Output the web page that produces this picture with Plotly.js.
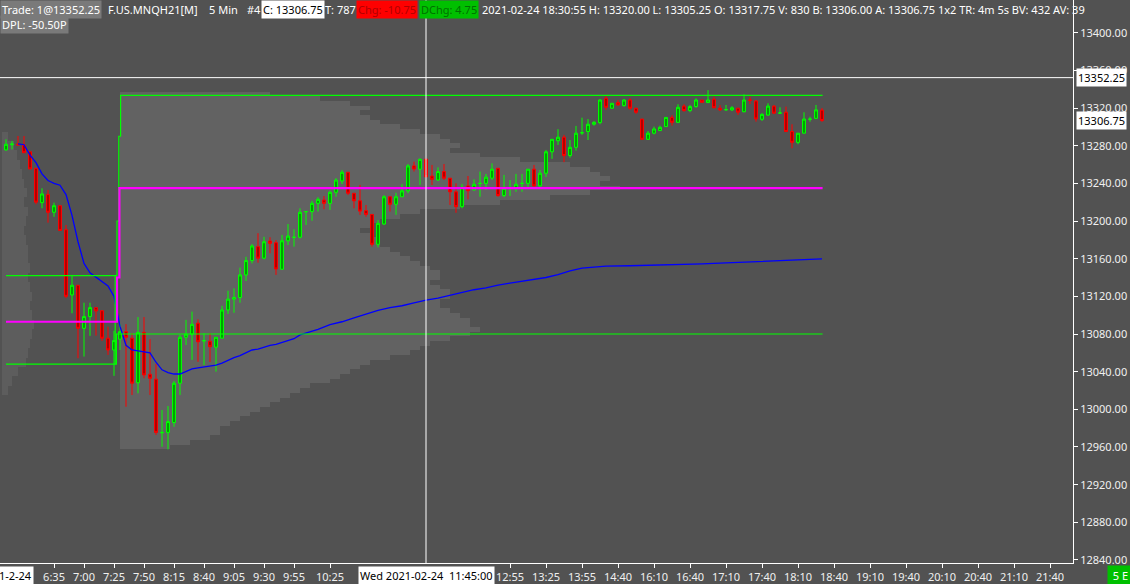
<!DOCTYPE html>
<html><head><meta charset="utf-8">
<script src="https://cdn.plot.ly/plotly-3.0.1.min.js"></script>
<style>html,body{margin:0;padding:0;background:#525252;}#chart{width:1130px;height:584px;}</style>
</head><body><div id="chart"></div>
<script>
// ---- candle data (bar index = position in arrays, 5-min bars) ----
const opens = [13275.5,13281,13281.5,13280.5,13273.5,13256,13219.5,13228,13209.25,13216.25,13190.75,13121.5,13131.75,13086,13098.5,13108,13104.75,13075.5,13063,13074.5,13082.5,13075.5,13028.25,13081.75,13037.25,13032,12975,12975.5,12986,13027.75,13076.5,13079.75,13091.5,13072.5,13072.25,13066,13075.5,13105.5,13117,13118.75,13142.75,13158,13172.75,13160.5,13178.75,13177,13148.75,13179,13182.5,13182.75,13209.75,13210,13218.75,13222.25,13218.75,13230.5,13242.5,13251.75,13229.5,13221.5,13211,13207,13175.25,13196.75,13225.75,13217.75,13225.75,13232,13258.5,13255,13265.5,13247.75,13243.5,13252.5,13245.5,13231,13215.25,13237.25,13233,13239.75,13240,13245.5,13256,13227,13234.5,13234.75,13239.75,13240,13255,13237.25,13250.75,13273.5,13285.25,13289,13269.5,13278.25,13293.5,13295,13302.75,13304.5,13330.25,13319.75,13325.75,13322.5,13328.5,13319.75,13308.25,13286.75,13293.25,13296,13300.25,13310,13304.75,13322,13317.25,13321.5,13328.5,13325.75,13329.25,13319.75,13318,13318,13319.75,13316,13328.5,13327.5,13308,13312.5,13322,13314.5,13315.5,13295,13283.5,13293.25,13308,13309,13317.75];
const highs = [13286.75,13285,13290.25,13290.25,13273.5,13256,13234.75,13233,13219.5,13216.25,13195.75,13142.75,13131.75,13113.25,13113.25,13108,13104.75,13087.75,13083.5,13090.5,13090.5,13081,13098,13098,13074.5,13048.25,12999.25,13003.5,13030,13079,13095,13103.75,13095.5,13080.75,13080.75,13076.5,13110,13126,13128.5,13150.5,13162,13175.5,13187,13183.25,13182.75,13179.75,13185.25,13196.75,13191.25,13213.5,13210,13221.5,13225.25,13226.5,13232.25,13245.5,13254.25,13251.75,13229.5,13238.25,13217,13207,13201,13227.5,13225.75,13230,13239.25,13260.5,13263,13266.5,13267,13259.5,13257,13260.5,13245.5,13240,13239.25,13247.75,13244.25,13252.5,13250,13261.25,13256,13249,13243.5,13250,13250,13255,13259.5,13254.25,13275.5,13286.75,13297.5,13291.5,13286,13301,13309.75,13308.25,13306.25,13329.5,13333.75,13325,13328.5,13329.5,13330.25,13320.25,13308.25,13295.5,13300.25,13301.25,13310,13312.5,13324,13324,13323.25,13330.25,13328.5,13339,13332,13323.25,13323.25,13322,13320.25,13334.5,13332,13328.5,13314.5,13325,13323.25,13320.75,13321.5,13302.75,13293.25,13315.5,13310.75,13323.25,13320];
const lows = [13274.75,13276,13280.5,13272.5,13255.25,13217.75,13213.5,13198.25,13204.5,13190,13118,13102,13054.25,13056,13078,13078.25,13072.5,13057.75,13035.5,13063,13002.75,13015.25,13017,13033,13015.25,12972.75,12960.25,12957.5,12981.5,13015.25,13068.25,13052.5,13050.5,13047,13050.25,13040,13075.5,13101.25,13102.5,13113.25,13136.25,13155,13155.75,13159.25,13165.75,13142.75,13148,13174.5,13172.75,13181.5,13195.75,13200.25,13210,13212.5,13211.75,13225.75,13239.25,13227.5,13213.5,13206.5,13204.5,13172.75,13172,13195.75,13210,13206.5,13225.75,13229.5,13252.5,13238.25,13246,13238.25,13242.75,13243.5,13217,13208.75,13213.5,13223,13232.25,13225.75,13233,13243.5,13225.75,13225.25,13226.5,13231,13231,13234.75,13236.5,13233.75,13246.75,13266,13280.75,13262.5,13267.25,13274.75,13291.5,13286,13301.25,13302.75,13318,13319,13322.5,13321.5,13318,13313.75,13286,13286,13292,13295.5,13300.25,13301.25,13304.75,13316,13315.5,13320.25,13326,13325.75,13319.75,13316.75,13317.25,13316.75,13312.5,13315.5,13324.25,13305.5,13306.25,13311.75,13313.75,13313.75,13295,13277.25,13281.5,13293.25,13305.5,13308.25,13305.25];
const closes = [13281.5,13281.75,13280.75,13272.5,13255.25,13220,13228.75,13209.25,13216.25,13190,13120,13131.75,13086,13098.5,13108,13104.5,13075.5,13063,13073,13082.5,13076.5,13027.75,13081.75,13036.5,13033,12975.5,12975.5,12987,13027.75,13076.5,13079.75,13090.25,13071.75,13073,13066.5,13076.5,13105.5,13117,13118.75,13142.75,13158,13173.5,13160.5,13178,13176.25,13149,13179,13184,13182.75,13209.25,13210,13218.75,13223,13218.75,13230.5,13243.5,13251.75,13229.5,13221.5,13210.5,13207,13175.25,13197.5,13225.75,13217.75,13225.75,13232,13258.5,13255.25,13265.5,13247,13244.25,13252.5,13245.5,13231,13215.25,13235.75,13232.25,13239,13240,13246.5,13255,13227,13234.75,13234.75,13239,13240,13255,13237.25,13250.75,13273.5,13286.75,13289,13269.5,13278.25,13293.25,13293.75,13302.75,13304.75,13328.5,13320.75,13325,13323.25,13328.5,13319.75,13315.5,13286.75,13293.25,13297.75,13299.5,13310,13304.75,13320.75,13317.25,13321.5,13328.5,13326,13328.5,13320.25,13318,13318.25,13320.25,13315.5,13328.5,13328.25,13308.25,13313.25,13322,13314.5,13314.75,13295,13283.5,13293.25,13308.25,13308.25,13318,13306.75];

// ---- blue average line (bar index, price) ----
const avgBar = [2,3,4,5,6,7,8,9,10,11,12,13,14,15,16,17,18,19,20,21,22,23,24,25,26,27,28,29,30,31,32,33,34,35,36,37,38,39,40,41,42,43,44,45,46,47,48,49,50,52,54,56,58,60,62,64,66,68,70,72,74,76,78,80,82,84,86,88,90,92,94,96,98,100,104,108,112,116,120,124,128,132,136];
const avgVal = [13282,13281,13270,13262,13250,13243,13240,13238,13228,13206,13178,13155,13145,13140,13136,13131,13120,13088,13068,13063,13062,13061,13060,13050,13042,13039,13037.5,13037.5,13040,13043,13044,13045,13046,13047,13049,13052,13055,13057,13060,13063,13064,13066,13068,13069,13071,13073,13075,13079,13081,13085,13090,13093,13097,13101,13105,13108,13110,13113,13116,13118,13121,13124,13127,13129,13132,13134,13136,13138,13140,13143,13147,13150,13151,13152,13152.5,13153,13154,13154.5,13155.5,13156.5,13157.5,13158.5,13159.7];

// ---- value-area / POC levels (step paths: bar index, price) ----
const prevVAHBar = [0,18.2], prevVAHVal = [13142,13142];
const vahBar = [18.2,18.2,18.5,18.5,18.8,18.8,19.1,19.1,136.1];
const vahVal = [13048,13142,13142,13200,13200,13290,13290,13333.5,13333.5];
const valBar = [0,18.2,18.4,18.4,136.1];
const valVal = [13048,13048,13048,13080,13080];
const pocBar = [0,18.3,18.5,18.5,18.9,18.9,136.1];
const pocVal = [13093,13093,13093,13140,13140,13235,13235];

// ---- volume profiles (price, volume) ----
const profPrice = [13335,13330,13325,13320,13315,13310,13305,13300,13295,13290,13285,13280,13275,13270,13265,13260,13255,13250,13245,13240,13235,13230,13225,13220,13215,13210,13205,13200,13195,13190,13185,13180,13175,13170,13165,13160,13155,13150,13145,13140,13135,13130,13125,13120,13115,13110,13105,13100,13095,13090,13085,13080,13075,13070,13065,13060,13055,13050,13045,13040,13035,13030,13025,13020,13015,13010,13005,13000,12995,12990,12985,12980,12975,12970,12965,12960];
const profVol = [1500,2000,2300,2500,2400,2500,2600,2800,3000,3200,3300,3400,3300,3600,4000,4500,4700,4800,4900,4800,5000,4700,4300,3800,3400,3000,2800,2600,2500,2400,2500,2600,2600,2700,2800,2900,3000,3100,3200,3200,3100,3200,3300,3300,3200,3200,3300,3400,3500,3500,3600,3500,3300,3100,3000,2900,2700,2500,2400,2300,2200,2100,1900,1800,1700,1600,1500,1400,1300,1200,1100,1000,1000,900,700,500];
const prevProfPrice = [13290,13280,13270,13260,13250,13240,13230,13220,13210,13200,13190,13180,13170,13160,13150,13140,13130,13120,13110,13100,13090,13080,13070,13060,13050,13040,13030,13020];
const prevProfVol = [60,120,150,180,200,220,250,220,260,240,220,240,260,260,280,260,280,300,280,300,320,300,280,260,240,160,100,60];

// ---- axis labels ----
const priceTicks = [12840,12880,12920,12960,13000,13040,13080,13120,13160,13200,13240,13280,13320,13360,13400];
const timeTickBar = [8,13,18,23,28,33,38,43,48,54,84,90,96,102,108,114,120,126,132,138,144,150,156,162,168,174];
const timeTickText = ['6:35','7:00','7:25','7:50','8:15','8:40','9:05','9:30','9:55','10:25','12:55','13:25','13:55','14:40','16:10','16:40','17:10','17:40','18:10','18:40','19:10','19:40','20:10','20:40','21:10','21:40'];
const cursorBar = 70, cursorPrice = 13352.25, lastPrice = 13306.75;
const sessionStart = 19;

const FONT = 'Noto Sans, Open Sans, sans-serif';
const PX_PER_BAR = 6;               // bar spacing on screen
const VOL_PER_PX = 10;              // profile volume units per pixel
const volToBars = v => v / VOL_PER_PX / PX_PER_BAR;

const idx = opens.map((_, i) => i);

const traces = [
  {type:'bar', orientation:'h', y:prevProfPrice, x:prevProfVol.map(volToBars), base:-0.6, width:10,
   marker:{color:'#5d5d5d', line:{width:0}}, hoverinfo:'skip'},
  {type:'bar', orientation:'h', y:profPrice, x:profVol.map(volToBars), base:sessionStart, width:5,
   marker:{color:'#626262', line:{width:0}}, hoverinfo:'skip'},
  {type:'scatter', mode:'lines', x:avgBar, y:avgVal, line:{color:'#0000ff', width:1.3}, hoverinfo:'skip'},
  {type:'scatter', mode:'lines', x:prevVAHBar, y:prevVAHVal, line:{color:'#00ff00', width:1.2}, hoverinfo:'skip'},
  {type:'scatter', mode:'lines', x:vahBar, y:vahVal, line:{color:'#00ff00', width:1.2}, hoverinfo:'skip'},
  {type:'scatter', mode:'lines', x:valBar, y:valVal, line:{color:'#00ff00', width:1.2}, hoverinfo:'skip'},
  {type:'scatter', mode:'lines', x:pocBar, y:pocVal, line:{color:'#ff00ff', width:2.2}, hoverinfo:'skip'},
  {type:'candlestick', x:idx, open:opens, high:highs, low:lows, close:closes,
   increasing:{line:{color:'#00ff00', width:1}, fillcolor:'#00a000'},
   decreasing:{line:{color:'#ff0000', width:1}, fillcolor:'#b00000'},
   whiskerwidth:0, hoverinfo:'skip'}
];

const W = 1073, H = 563;
const px = v => v / W, py = v => 1 - v / H;
function hdr(text, x, y, opts) {
  return Object.assign({xref:'paper', yref:'paper', x:px(x), y:py(y), xanchor:'left', yanchor:'top',
    text:text, showarrow:false, font:{family:FONT, size:11, color:'#ffffff'}, borderpad:1}, opts||{});
}
const annotations = [
  hdr('Trade: 1@13352.25', 0, 0, {bgcolor:'#7a7a7a'}),
  hdr('F.US.MNQH21[M]', 106, 0),
  hdr('5 Min', 207, 0),
  hdr('#4', 245, 0),
  hdr('C: 13306.75', 261, 0, {bgcolor:'#ffffff', font:{family:FONT, size:11, color:'#000000'}}),
  hdr('T: 787', 323, 0),
  hdr('Chg: -10.75', 356, 0, {bgcolor:'#ff0000', font:{family:FONT, size:11, color:'#b00000'}}),
  hdr('DChg: 4.75', 419, 0, {bgcolor:'#00c000', font:{family:FONT, size:11, color:'#007000'}}),
  hdr('2021-02-24 18:30:55 H: 13320.00 L: 13305.25 O: 13317.75 V: 830 B: 13306.00 A: 13306.75 1x2 TR: 4m 5s BV: 432 AV: 39', 480, 0),
  hdr('DPL: -50.50P', 0, 15, {bgcolor:'#7a7a7a'}),
  {xref:'paper', yref:'y', x:1.003, y:cursorPrice, xanchor:'left', yanchor:'middle', text:cursorPrice.toFixed(2), showarrow:false,
   bgcolor:'#ffffff', font:{family:FONT, size:11, color:'#000000'}, borderpad:1},
  {xref:'paper', yref:'y', x:1.003, y:lastPrice, xanchor:'left', yanchor:'middle', text:lastPrice.toFixed(2), showarrow:false,
   bgcolor:'#ffffff', font:{family:FONT, size:11, color:'#000000'}, borderpad:1},
  {xref:'x', yref:'paper', x:cursorBar, y:-0.006, xanchor:'center', yanchor:'top', text:'Wed 2021-02-24  11:45:00', showarrow:false,
   bgcolor:'#ffffff', font:{family:FONT, size:11, color:'#000000'}, borderpad:1},
  {xref:'x', yref:'paper', x:0, y:-0.006, xanchor:'center', yanchor:'top', text:'2021-2-24', showarrow:false,
   bgcolor:'#ffffff', font:{family:FONT, size:11, color:'#000000'}, borderpad:1},
  {xref:'paper', yref:'paper', x:1.0037 + 30/W, y:-0.004, xanchor:'left', yanchor:'top', text:' 5 E ', showarrow:false,
   bgcolor:'#00c000', font:{family:FONT, size:11, color:'#ffffff'}, borderpad:2}
];

const layout = {
  width:1130, height:584,
  margin:{l:0, r:57, t:0, b:21, pad:0},
  paper_bgcolor:'#525252', plot_bgcolor:'#525252',
  showlegend:false, barmode:'overlay', bargap:0, boxgap:0.3,
  font:{family:FONT, size:11, color:'#ffffff'},
  xaxis:{range:[-1, (W - 6) / PX_PER_BAR], showgrid:false, zeroline:false, showline:true, linecolor:'#ffffff', linewidth:1,
    ticks:'outside', ticklen:4, tickcolor:'#ffffff', tickvals:timeTickBar, ticktext:timeTickText,
    tickfont:{family:FONT, size:11, color:'#f0f0f0'}, rangeslider:{visible:false}, fixedrange:true},
  yaxis:{side:'right', range:[12836.8, 13434.7], showgrid:false, zeroline:false, showline:true, linecolor:'#ffffff', linewidth:1,
    ticks:'outside', ticklen:4, tickcolor:'#ffffff', tickvals:priceTicks, ticktext:priceTicks.map(v => v.toFixed(2)),
    tickfont:{family:FONT, size:11, color:'#f0f0f0'}, fixedrange:true},
  shapes:[
    {type:'line', xref:'x', yref:'paper', x0:cursorBar, x1:cursorBar, y0:0, y1:1, line:{color:'#ffffff', width:1}},
    {type:'line', xref:'paper', yref:'y', x0:0, x1:1, y0:cursorPrice, y1:cursorPrice, line:{color:'#ffffff', width:1}}
  ],
  annotations:annotations
};

Plotly.newPlot('chart', traces, layout, {staticPlot:true, displayModeBar:false});
</script></body></html>
